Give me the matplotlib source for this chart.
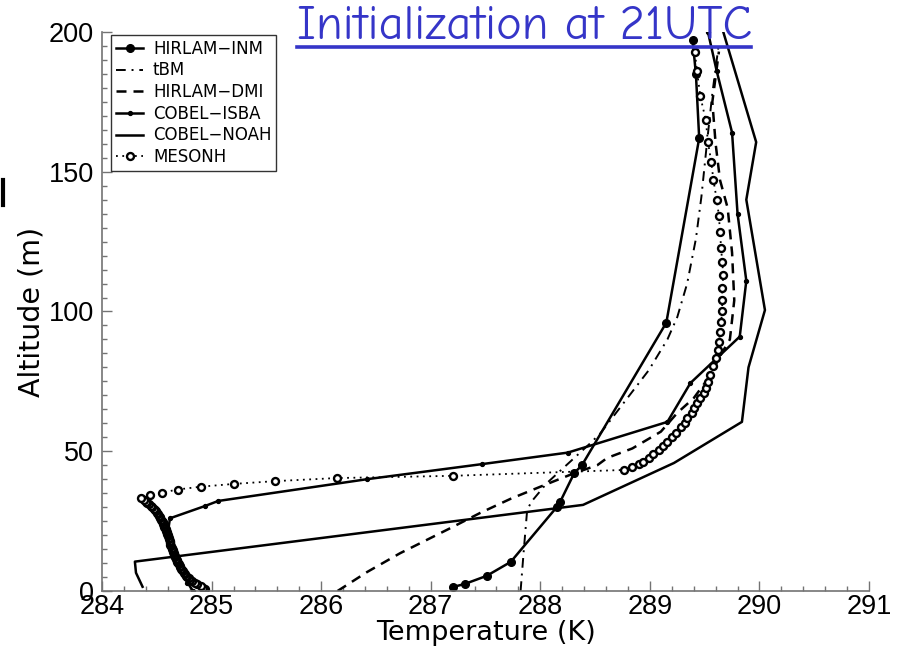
import matplotlib
matplotlib.use("Agg")
import matplotlib.pyplot as plt
from matplotlib.lines import Line2D
from matplotlib.ticker import MultipleLocator

plt.rcParams['font.family'] = ['Liberation Sans', 'DejaVu Sans']

# profils de température (K) en fonction de l'altitude (m)
hirlam_inm_t = [287.20, 287.31, 287.51, 287.73, 288.15, 288.18, 288.31, 288.38, 289.15, 289.45, 289.42, 289.39]
hirlam_inm_z = [1.4, 2.5, 5.4, 10.4, 30.0, 31.8, 42.2, 45.0, 96.0, 162.0, 185.0, 197.0]

tbm_t = [287.82, 287.85, 287.88, 287.92, 288.06, 288.46, 288.55, 288.99, 289.16, 289.25,
         289.34, 289.42, 289.47, 289.52, 289.57, 289.63]
tbm_z = [0, 15, 29, 32, 38.6, 53, 56.5, 79, 90, 98, 110, 126, 141, 160, 178, 196]

hirlam_dmi_t = [286.15, 286.42, 286.72, 287.18, 287.45, 287.73, 288.00, 288.30, 288.52, 288.61,
                288.84, 289.10, 289.25, 289.40, 289.55, 289.64, 289.73, 289.77, 289.75, 289.71,
                289.64, 289.60, 289.57, 289.63]
hirlam_dmi_z = [0, 6.8, 13.5, 22.5, 27.9, 33, 37.3, 42, 45, 47.6, 51, 57, 63.7, 69, 77, 84,
                90, 104, 121, 137, 147, 160, 175, 193]

cobel_isba_t = [284.83, 284.78, 284.72, 284.65, 284.60, 284.62, 284.94, 285.06, 286.42, 287.47,
                288.25, 289.16, 289.37, 289.82, 289.88, 289.80, 289.75, 289.61, 289.53]
cobel_isba_z = [0, 3, 8, 15, 20.7, 26, 30.4, 32.2, 40, 45.4, 49.5, 60.5, 74.4, 91, 111, 135,
                164, 186, 200]

cobel_noah_t = [284.37, 284.31, 284.30, 288.39, 289.22, 289.84, 289.90, 290.05, 289.88, 289.97, 289.67]
cobel_noah_z = [1.5, 6.5, 10.5, 30.8, 45.8, 60.5, 80, 100.5, 140, 160.6, 200]

mesonh_t = [284.94, 284.92, 284.90, 284.87, 284.85, 284.82, 284.80, 284.79, 284.78, 284.77,
            284.76, 284.75, 284.74, 284.73, 284.72, 284.715, 284.71, 284.70, 284.69, 284.685,
            284.68, 284.675, 284.67, 284.665, 284.66, 284.655, 284.65, 284.645, 284.64, 284.635,
            284.63, 284.625, 284.62, 284.62, 284.62, 284.615, 284.61, 284.605, 284.60, 284.595,
            284.59, 284.585, 284.58, 284.575, 284.57, 284.565, 284.56, 284.555, 284.55, 284.54,
            284.53, 284.525, 284.52, 284.51, 284.50, 284.49, 284.48, 284.47, 284.46, 284.445,
            284.43, 284.415, 284.40, 284.38, 284.36,
            284.44, 284.55, 284.69, 284.90, 285.20, 285.58, 286.14,
            287.20, 288.76, 288.84, 288.90, 288.94, 288.99, 289.03, 289.08, 289.12, 289.16,
            289.20, 289.24, 289.28, 289.32, 289.34, 289.38, 289.40, 289.43, 289.46, 289.49,
            289.51, 289.53, 289.55, 289.58, 289.60, 289.62, 289.63, 289.64, 289.65, 289.66,
            289.66, 289.66, 289.67, 289.66, 289.65, 289.64, 289.63, 289.61, 289.58, 289.56,
            289.53, 289.51, 289.46, 289.43, 289.41]
mesonh_z = [0.7, 1.2, 1.8, 2.4, 2.9, 3.4, 3.9, 4.5, 5.0, 5.5,
            6.0, 6.5, 7.0, 7.5, 8.0, 8.5, 9.0, 9.5, 10.0, 10.5,
            11.0, 11.5, 12.0, 12.5, 13.0, 13.5, 14.0, 14.5, 15.0, 15.5,
            16.0, 16.5, 17.0, 17.5, 18.0, 18.5, 19.0, 19.5, 20.0, 20.5,
            21.0, 21.5, 22.0, 22.5, 23.0, 23.5, 24.0, 24.5, 25.0, 25.5,
            26.0, 26.5, 27.0, 27.5, 28.0, 28.5, 29.0, 29.5, 30.0, 30.5,
            31.0, 31.5, 32.0, 32.6, 33.3,
            34.3, 35.2, 36.3, 37.3, 38.3, 39.3, 40.4,
            41.2, 43.3, 44.4, 45.4, 46.2, 47.6, 49.0, 50.4, 51.9, 53.3,
            55.0, 56.5, 58.7, 60.1, 61.9, 63.7, 65.5, 67.3, 69.0, 70.8,
            72.6, 74.8, 77.3, 80.5, 83.4, 86.2, 89.0, 92.7, 96.2, 100.2,
            104.0, 108.4, 113.0, 117.7, 122.7, 128.4, 134.2, 140.0, 147.0, 153.5,
            160.6, 168.5, 177.0, 186.0, 193.0]

x_ticks = [284, 285, 286, 287, 288, 289, 290, 291]
y_ticks = [0, 50, 100, 150, 200]

fig = plt.figure(figsize=(9.06, 6.57), dpi=100)
ax = fig.add_axes([0.1126, 0.1005, 0.8466, 0.8508])

lw = 1.8
ax.plot(hirlam_inm_t, hirlam_inm_z, '-', color='k', lw=lw, marker='o', ms=5.5, label='HIRLAM\u2212INM')
ax.plot(tbm_t, tbm_z, color='k', lw=1.4, linestyle=(0, (5, 3, 1, 3)), label='tBM')
ax.plot(hirlam_dmi_t, hirlam_dmi_z, color='k', lw=lw, linestyle=(0, (4, 2.8)), label='HIRLAM\u2212DMI')
ax.plot(cobel_isba_t, cobel_isba_z, '-', color='k', lw=lw, marker='o', ms=2.8, label='COBEL\u2212ISBA')
ax.plot(cobel_noah_t, cobel_noah_z, '-', color='k', lw=lw, label='COBEL\u2212NOAH')
ax.plot(mesonh_t, mesonh_z, color='k', lw=1.3, linestyle=(0, (1, 2.5)), marker='o', ms=5,
        mfc='white', mew=1.7, label='MESONH')

ax.set_xlim(284, 291)
ax.set_ylim(0, 200)
ax.set_xticks(x_ticks)
ax.set_yticks(y_ticks)
ax.xaxis.set_minor_locator(MultipleLocator(0.2))
ax.yaxis.set_minor_locator(MultipleLocator(5))
ax.tick_params(which='major', direction='in', length=7, width=1, color='0.45', labelsize=19.5, pad=2)
ax.tick_params(which='minor', direction='in', length=3.5, width=1, color='0.45')
ax.tick_params(axis='y', pad=6)

for s in ['top', 'right']:
    ax.spines[s].set_visible(False)
for s in ['left', 'bottom']:
    ax.spines[s].set_color('0.45')
    ax.spines[s].set_linewidth(1.2)

ax.set_xlabel('Temperature (K)', fontsize=19.5, family='DejaVu Sans', labelpad=0)
ax.set_ylabel('Altitude (m)', fontsize=20.5, family='DejaVu Sans', labelpad=2)

leg = ax.legend(loc='upper left', bbox_to_anchor=(0.012, 0.995), frameon=True,
                prop={'family': 'DejaVu Sans', 'size': 12},
                fancybox=False, edgecolor='k', handlelength=1.6, handletextpad=0.6,
                borderpad=0.3, labelspacing=0.22, borderaxespad=0)
leg.get_frame().set_linewidth(1.0)

# titre souligné
fig.text(0.328, 0.940, 'Initialization at 21UTC', color='#3535c8', fontsize=34.8,
         family=['Comic Neue', 'DejaVu Sans'], ha='left', va='baseline')
fig.add_artist(Line2D([0.328, 0.829], [0.928, 0.928], color='#3535c8', lw=2.6))

# petit trait au bord gauche
fig.add_artist(Line2D([0.003, 0.003], [1 - 205 / 657, 1 - 180 / 657], color='k', lw=3))

fig.savefig('out.png', dpi=100)
